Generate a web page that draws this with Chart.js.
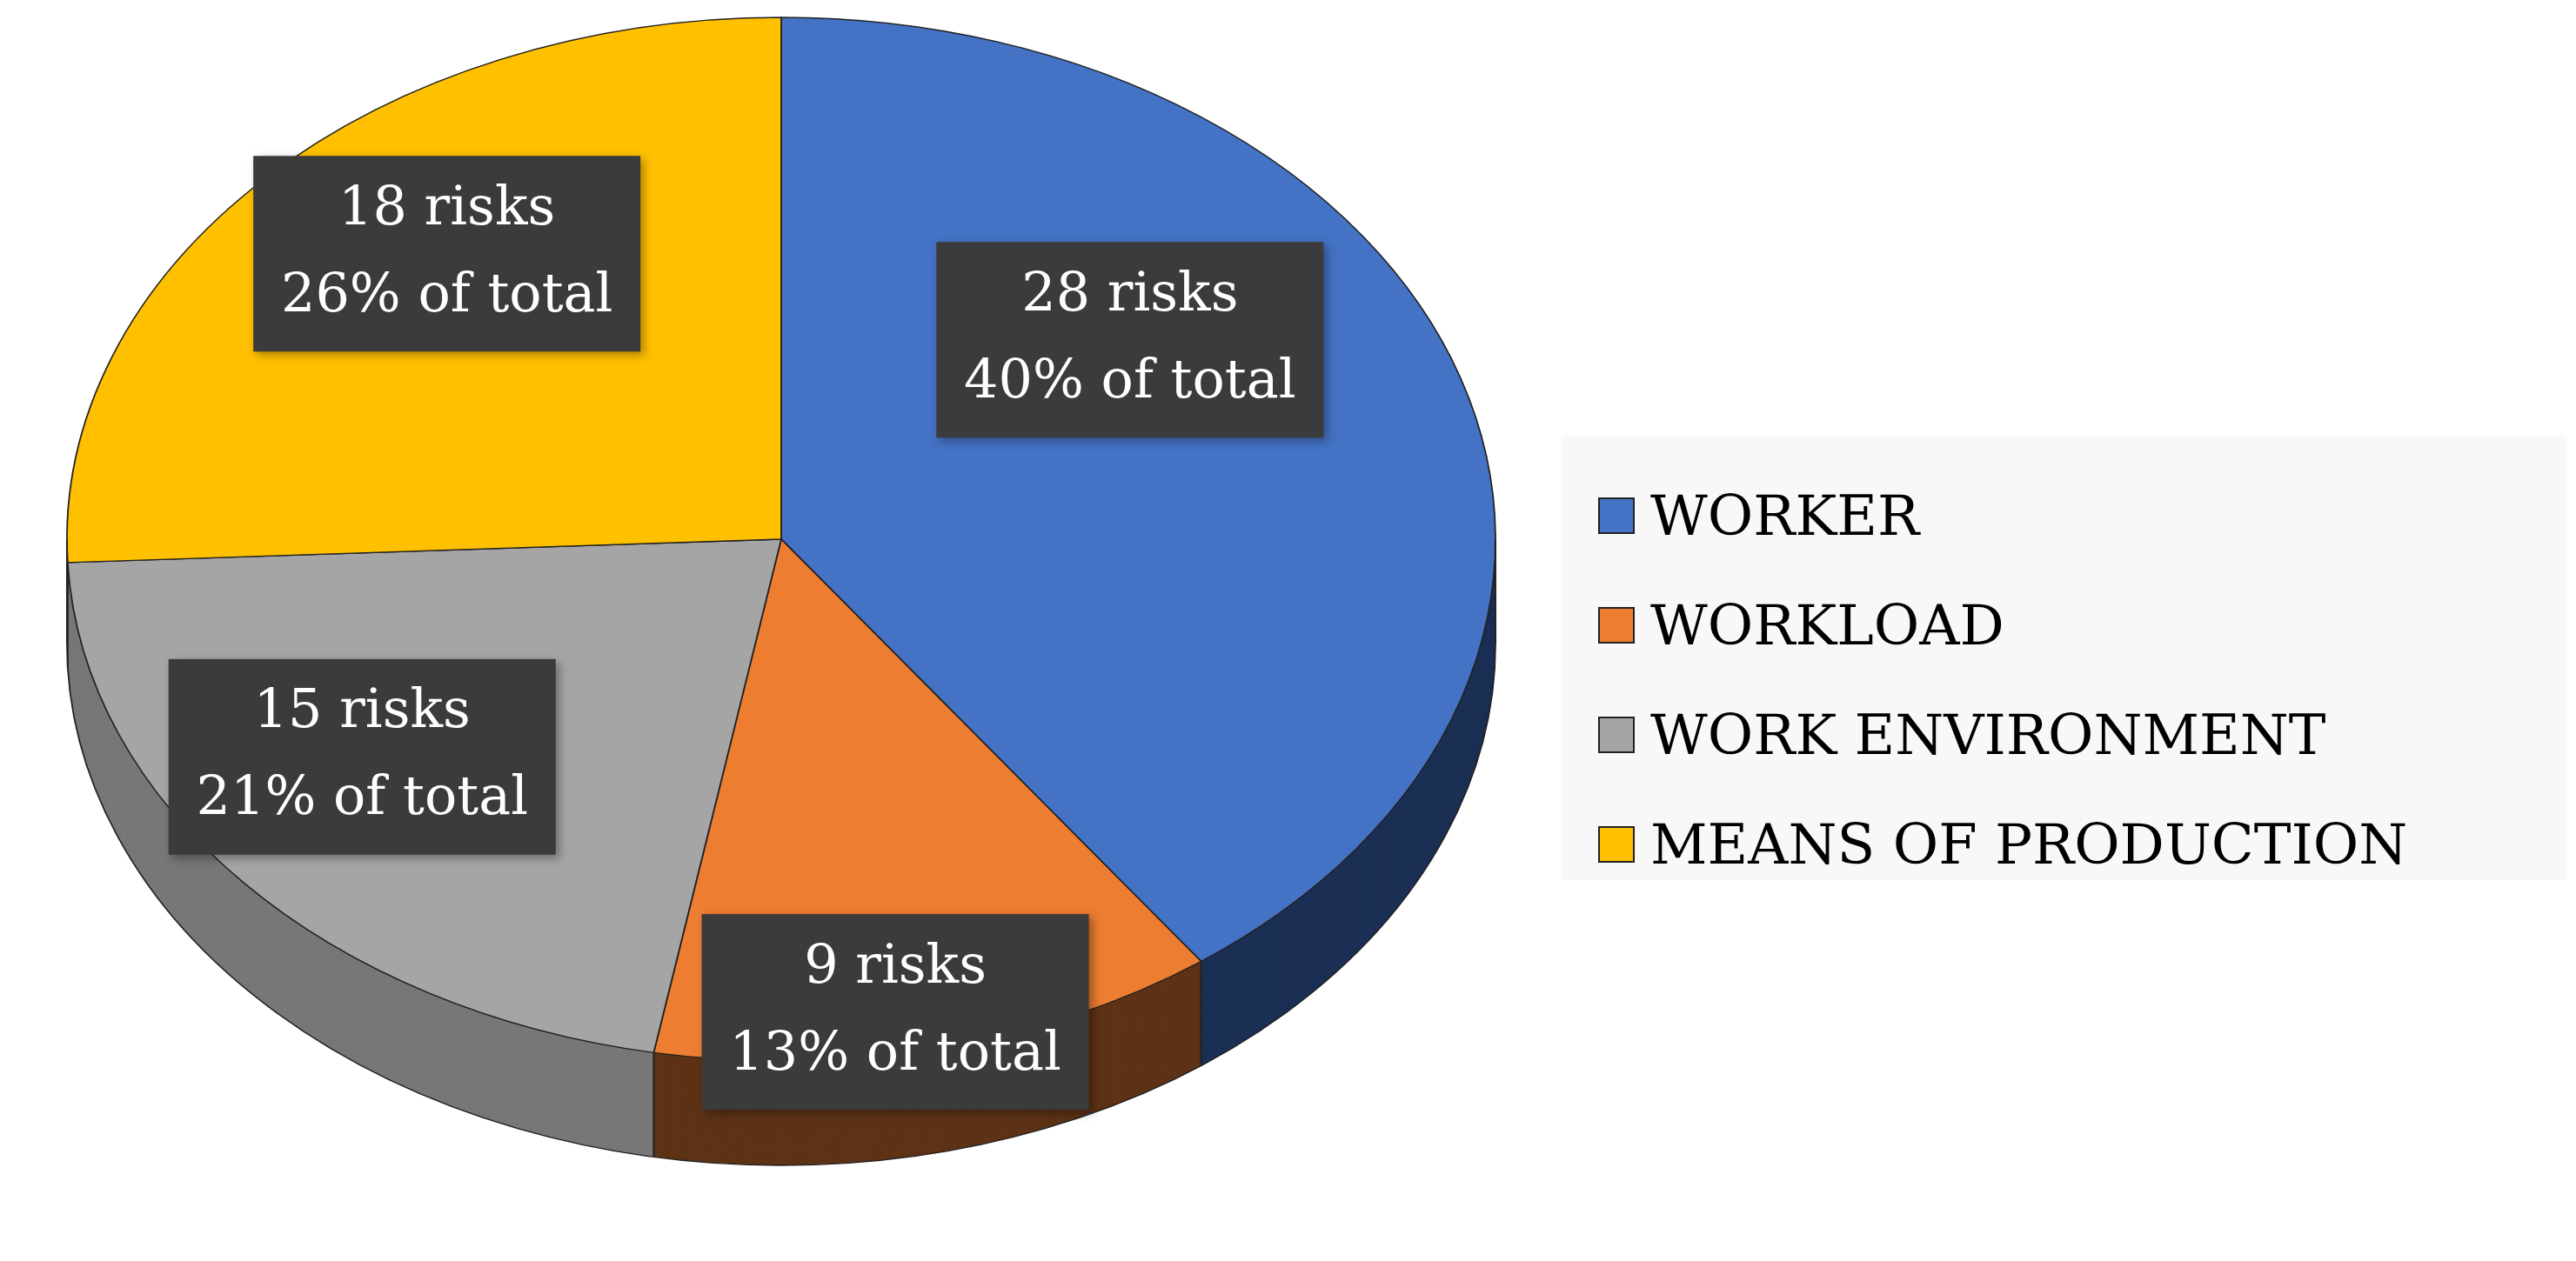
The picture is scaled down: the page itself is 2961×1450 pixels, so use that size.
<!DOCTYPE html>
<html>
<head>
<meta charset="utf-8">
<script src="https://cdn.jsdelivr.net/npm/chart.js@4"></script>
<style>
  body { margin: 0; background: #fff; }
  #wrap { position: absolute; left: 0; top: 0; width: 1790px; height: 1450px; }
  #legend { position: absolute; left: 1795px; top: 502px; width: 1155px; height: 510px;
    background: #f8f8f8; font-family: "DejaVu Serif", "Liberation Serif", serif; font-size: 64px; color: #000;
    box-sizing: border-box; padding: 28px 0 0 42px; }
  .item { display: flex; align-items: center; height: 126px; }
  .box { width: 38px; height: 38px; border: 2px solid #222; margin-right: 18px; }
</style>
</head>
<body>
<div id="wrap"><canvas id="pie"></canvas></div>
<div id="legend"></div>
<script>
const categories = ['WORKER', 'WORKLOAD', 'WORK ENVIRONMENT', 'MEANS OF PRODUCTION'];
const riskCounts = [28, 9, 15, 18];
const shareLabels = ['40% of total', '13% of total', '21% of total', '26% of total'];
const topColors = ['#4472c4', '#ed7d31', '#a5a5a5', '#ffc000'];
const sideColors = ['#1b2f55', '#5e3215', '#777777', '#8a6800'];

// target ellipse on screen
const CX = 898, CY = 620, RX = 821, RY = 600, DEPTH = 120;
// label placement per slice: radius fraction and angle shift (radians)
const LABEL_F = [0.62, 0.92, 0.72, 0.72];
const LABEL_SHIFT = [-0.35, 0.05, 0.1, 0.1];

function setTransform(ctx, el) {
  const sx = RX / el.outerRadius, sy = RY / el.outerRadius;
  ctx.translate(CX, CY);
  ctx.scale(sx, sy);
  ctx.translate(-el.x, -el.y);
}

const tiltPlugin = {
  id: 'tilt',
  beforeDatasetsDraw(chart) {
    const ctx = chart.ctx;
    const arcs = chart.getDatasetMeta(0).data;
    ctx.save();
    ctx.shadowColor = 'rgba(0,0,0,0.25)';
    ctx.shadowBlur = 40;
    setTransform(ctx, arcs[0]);
    ctx.restore();
    for (let k = DEPTH; k >= 0; k -= 2) {
      arcs.forEach((el, i) => {
        ctx.save();
        ctx.translate(0, k);
        setTransform(ctx, el);
        ctx.beginPath();
        ctx.moveTo(el.x, el.y);
        ctx.arc(el.x, el.y, el.outerRadius, el.startAngle, el.endAngle);
        ctx.closePath();
        ctx.fillStyle = sideColors[i];
        ctx.fill();
        ctx.restore();
      });
    }
    ctx.save();
    ctx.translate(0, DEPTH);
    setTransform(ctx, arcs[0]);
    ctx.beginPath();
    ctx.arc(arcs[0].x, arcs[0].y, arcs[0].outerRadius, 0, Math.PI);
    ctx.lineWidth = 1.5;
    ctx.strokeStyle = '#222';
    ctx.stroke();
    ctx.restore();
    ctx.save();
    ctx.strokeStyle = '#222';
    ctx.lineWidth = 2;
    arcs.forEach(el => {
      const a = el.startAngle;
      const s = Math.sin(a);
      if (s > -0.05) {
        const x = CX + Math.cos(a) * RX, y = CY + s * RY;
        ctx.beginPath(); ctx.moveTo(x, y); ctx.lineTo(x, y + DEPTH); ctx.stroke();
      }
    });
    [0, Math.PI].forEach(a => {
      const x = CX + Math.cos(a) * RX;
      ctx.beginPath(); ctx.moveTo(x, CY); ctx.lineTo(x, CY + DEPTH); ctx.stroke();
    });
    ctx.restore();
    ctx.save();
    setTransform(ctx, arcs[0]);
  },
  afterDatasetsDraw(chart) {
    const ctx = chart.ctx;
    ctx.restore();
    const arcs = chart.getDatasetMeta(0).data;
    ctx.save();
    ctx.font = '62px "DejaVu Serif", "Liberation Serif", serif';
    ctx.textAlign = 'center';
    ctx.textBaseline = 'middle';
    arcs.forEach((el, i) => {
      const mid = (el.startAngle + el.endAngle) / 2 + LABEL_SHIFT[i];
      const x = CX + Math.cos(mid) * RX * LABEL_F[i];
      const y = CY + Math.sin(mid) * RY * LABEL_F[i];
      const w = 445, h = 225;
      ctx.fillStyle = '#3b3b3b';
      ctx.shadowColor = 'rgba(0,0,0,0.35)';
      ctx.shadowBlur = 10;
      ctx.shadowOffsetX = 4; ctx.shadowOffsetY = 4;
      ctx.fillRect(x - w / 2, y - h / 2, w, h);
      ctx.shadowColor = 'transparent';
      ctx.fillStyle = '#fff';
      ctx.fillText(riskCounts[i] + ' risks', x, y - 50);
      ctx.fillText(shareLabels[i], x, y + 50);
    });
    ctx.restore();
  }
};

new Chart(document.getElementById('pie'), {
  type: 'pie',
  data: {
    labels: categories,
    datasets: [{
      data: riskCounts,
      backgroundColor: topColors,
      borderColor: '#222',
      borderWidth: 1.5
    }]
  },
  options: {
    responsive: true,
    maintainAspectRatio: false,
    animation: false,
    layout: { padding: 40 },
    plugins: { legend: { display: false }, tooltip: { enabled: false } }
  },
  plugins: [tiltPlugin]
});

const legend = document.getElementById('legend');
categories.forEach((c, i) => {
  legend.innerHTML += '<div class="item"><div class="box" style="background:' + topColors[i] + '"></div>' + c + '</div>';
});
</script>
</body>
</html>
